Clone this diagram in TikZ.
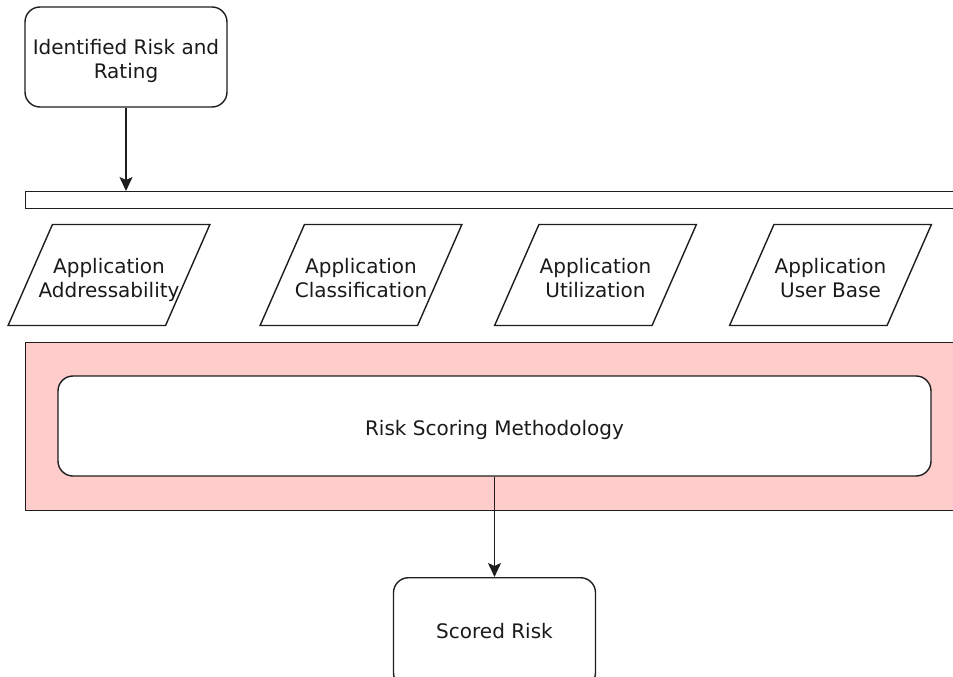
\documentclass[tikz,border=0pt]{standalone}
\usepackage{fontspec}
\setmainfont{DejaVu Sans}
\usetikzlibrary{shapes.geometric,arrows.meta}
\definecolor{linec}{HTML}{1E1E1E}
\definecolor{textc}{HTML}{1A1A1A}
\definecolor{pinkfill}{HTML}{FFCCCC}
\tikzset{
  base/.style={draw=linec, line width=1.4pt, inner sep=0pt, align=center, text=textc,
    font=\fontsize{20}{24}\selectfont},
  lbl/.style={inner sep=0pt, align=center, text=textc, font=\fontsize{20}{24}\selectfont},
  rbox/.style={base, rounded corners=15pt, fill=white},
  plainbox/.style={base, fill=white},
  zonebox/.style={base, fill=pinkfill},
  para/.style={base, inner sep=5pt, trapezium, trapezium left angle=68.6, trapezium right angle=111.4,
    trapezium stretches=true, minimum width=202pt, minimum height=101pt, fill=white},
  arr/.style={draw=linec, line width=1.4pt, -{Stealth[length=14pt,width=13pt,inset=3pt]}}
}
\begin{document}
\begin{tikzpicture}[x=1pt,y=-1pt]
\useasboundingbox (0,0) rectangle (953,677);
\clip (0,0) rectangle (953,677);
\fill[white] (0,0) rectangle (953,677);

\node[rbox, minimum width=202pt, minimum height=100pt] (ident) at (126,57) {};
\node[lbl] (identlabel) at (126,61) {Identified Risk and\\Rating};

\node[plainbox, anchor=north west, minimum width=945pt, minimum height=17pt] (bar) at (25,191) {};

\node[para] (p1) at (109,275) {};
\node[para] (p2) at (361,275) {};
\node[para] (p3) at (595.5,275) {};
\node[para] (p4) at (830.5,275) {};
\node[lbl] (p1label) at (109,281.5) {Application\\Addressability\strut};
\node[lbl] (p2label) at (361,281.5) {Application\\Classification\strut};
\node[lbl] (p3label) at (595.5,281.5) {Application\\Utilization\strut};
\node[lbl] (p4label) at (830.5,281.5) {Application\\User Base\strut};

\node[zonebox, anchor=north west, minimum width=945pt, minimum height=168pt] (zone) at (25,342) {};
\node[rbox, minimum width=873pt, minimum height=100pt] (method) at (494.5,426) {};
\node[lbl] (methodlabel) at (494.5,430) {Risk Scoring Methodology};

\node[rbox, anchor=north, minimum width=202pt, minimum height=110pt] (scored) at (494.5,577) {};
\node[lbl] (scoredlabel) at (494.5,631) {Scored Risk};

\draw[arr] (ident.south) -- (ident.south |- bar.north);
\draw[arr] (method.south) -- (scored.north);
\end{tikzpicture}
\end{document}
